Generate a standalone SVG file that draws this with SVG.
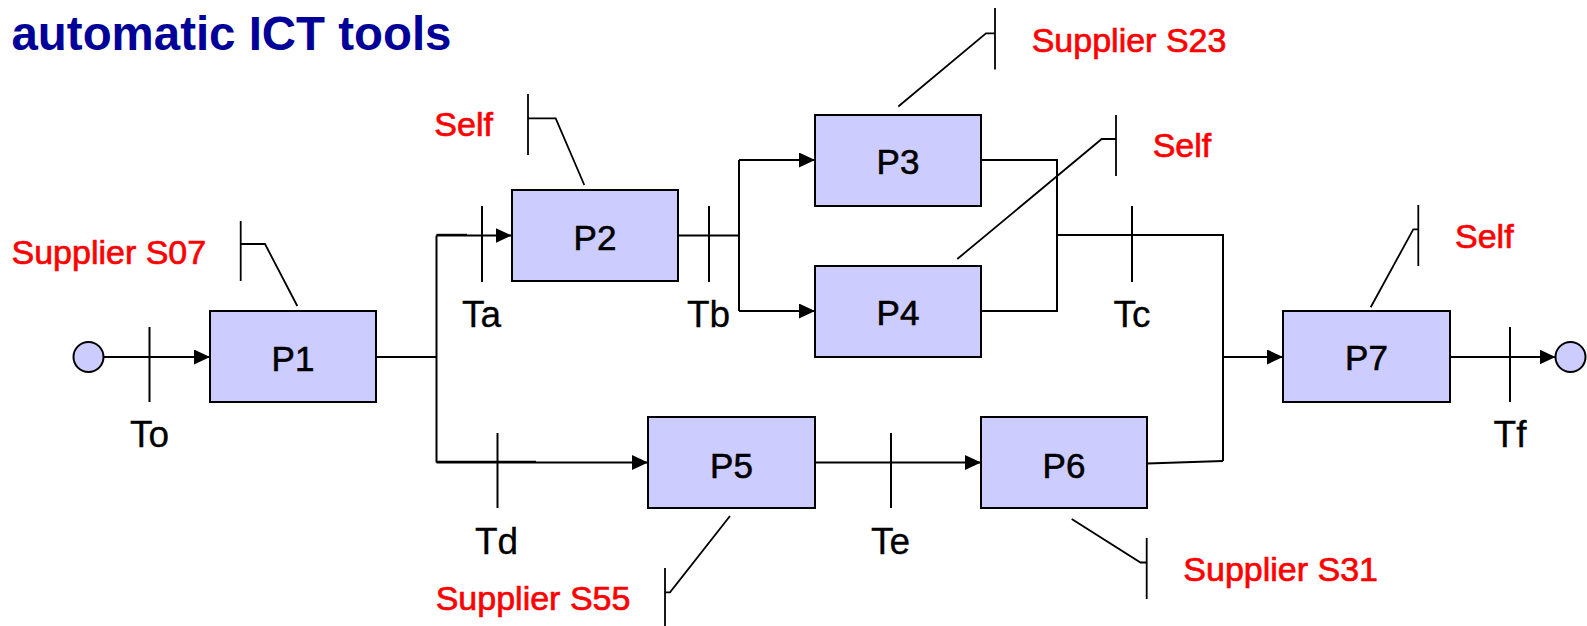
<svg xmlns="http://www.w3.org/2000/svg" width="1587" height="626" viewBox="0 0 1587 626">
  <defs>
    <marker id="arrow" markerUnits="userSpaceOnUse" viewBox="0 0 16 15" refX="16" refY="7.5" markerWidth="16" markerHeight="15" orient="auto">
      <path d="M0,0 L16,7.5 L0,15 z" fill="#000"/>
    </marker>
    <style>
      .box { fill: #ccccff; stroke: #000; stroke-width: 2; }
      .term { fill: #ccccff; stroke: #000; stroke-width: 2; }
      .ln { fill: none; stroke: #000; stroke-width: 2; }
      .res { fill: none; stroke: #000; stroke-width: 1.8; }
      .plabel { font-family: "Liberation Sans", Arial, sans-serif; font-size: 35px; fill: #000; stroke: #000; stroke-width: 0.6; text-anchor: middle; }
      .tlabel { font-family: "Liberation Sans", Arial, sans-serif; font-size: 37px; fill: #000; stroke: #000; stroke-width: 0.3; text-anchor: middle; }
      .rlabel { font-family: "Liberation Sans", Arial, sans-serif; font-size: 34px; fill: #ff0000; stroke: #ff0000; stroke-width: 0.7; }
      .title { font-family: "Liberation Sans", Arial, sans-serif; font-size: 47.5px; font-weight: bold; fill: #000099; }
    </style>
  </defs>
  <rect width="1587" height="626" fill="#ffffff"/>

  <text class="title" x="11.5" y="50" textLength="440" lengthAdjust="spacingAndGlyphs">automatic ICT tools</text>

  <g id="connectors">
    <line class="ln" x1="103" y1="357" x2="210" y2="357" marker-end="url(#arrow)"/>
    <path class="ln" d="M376,357 H436.5"/>
    <path class="ln" d="M436.5,235.5 V462.5"/>
    <line class="ln" x1="436.5" y1="235.5" x2="511.5" y2="235.5" marker-end="url(#arrow)"/>
    <line class="ln" x1="436.5" y1="234.8" x2="467" y2="234.8"/>
    <line class="ln" x1="436.5" y1="462.5" x2="648" y2="462.5" marker-end="url(#arrow)"/>
    <line class="ln" x1="436.5" y1="461.8" x2="536" y2="461.8"/>
    <path class="ln" d="M678,235.5 H739"/>
    <path class="ln" d="M739,160 V311"/>
    <line class="ln" x1="739" y1="160" x2="815" y2="160" marker-end="url(#arrow)"/>
    <line class="ln" x1="739" y1="311" x2="815" y2="311" marker-end="url(#arrow)"/>
    <path class="ln" d="M981,160 H1057 V311 H981"/>
    <path class="ln" d="M1057,235 H1223 V461"/>
    <line class="ln" x1="1223" y1="357" x2="1283" y2="357" marker-end="url(#arrow)"/>
    <line class="ln" x1="815" y1="462.5" x2="981" y2="462.5" marker-end="url(#arrow)"/>
    <path class="ln" d="M1147,463.5 L1223,461"/>
    <line class="ln" x1="1450" y1="357" x2="1555.5" y2="357" marker-end="url(#arrow)"/>
  </g>

  <g id="tokens">
    <g id="To"><line class="ln" x1="149.5" y1="327" x2="149.5" y2="402"/><text class="tlabel" x="149.5" y="447">To</text></g>
    <g id="Ta"><line class="ln" x1="482" y1="206" x2="482" y2="282"/><text class="tlabel" x="481.5" y="327">Ta</text></g>
    <g id="Tb"><line class="ln" x1="709" y1="206" x2="709" y2="282"/><text class="tlabel" x="708.5" y="327">Tb</text></g>
    <g id="Tc"><line class="ln" x1="1132" y1="206" x2="1132" y2="282"/><text class="tlabel" x="1132" y="327">Tc</text></g>
    <g id="Td"><line class="ln" x1="497.5" y1="433" x2="497.5" y2="508"/><text class="tlabel" x="496.5" y="554">Td</text></g>
    <g id="Te"><line class="ln" x1="891" y1="433" x2="891" y2="508"/><text class="tlabel" x="890.5" y="554">Te</text></g>
    <g id="Tf"><line class="ln" x1="1510" y1="327" x2="1510" y2="402"/><text class="tlabel" x="1510" y="447">Tf</text></g>
  </g>

  <g id="start"><circle class="term" cx="88.5" cy="357" r="15"/></g>
  <g id="end"><circle class="term" cx="1570.5" cy="357" r="15"/></g>

  <g id="P1"><rect class="box" x="210" y="311" width="166" height="91"/><text class="plabel" x="293" y="371">P1</text></g>
  <g id="P2"><rect class="box" x="512" y="190" width="166" height="91"/><text class="plabel" x="595" y="249.5">P2</text></g>
  <g id="P3"><rect class="box" x="815" y="115" width="166" height="91"/><text class="plabel" x="898" y="173.5">P3</text></g>
  <g id="P4"><rect class="box" x="815" y="266" width="166" height="91"/><text class="plabel" x="898" y="325">P4</text></g>
  <g id="P5"><rect class="box" x="648" y="417" width="167" height="91"/><text class="plabel" x="731.5" y="477.5">P5</text></g>
  <g id="P6"><rect class="box" x="981" y="417" width="166" height="91"/><text class="plabel" x="1064" y="477.5">P6</text></g>
  <g id="P7"><rect class="box" x="1283" y="311" width="167" height="91"/><text class="plabel" x="1366.5" y="370">P7</text></g>

  <g id="res-S07">
    <line class="res" x1="240.7" y1="221" x2="240.7" y2="281"/>
    <polyline class="res" points="240.7,244 265,244 297.3,306"/>
    <text class="rlabel" x="11.5" y="263.5">Supplier S07</text>
  </g>
  <g id="res-P2-self">
    <line class="res" x1="528" y1="94" x2="528" y2="155"/>
    <polyline class="res" points="528,118.3 555.7,118.3 584.3,185"/>
    <text class="rlabel" x="434.3" y="136">Self</text>
  </g>
  <g id="res-S23">
    <line class="res" x1="995" y1="8" x2="995" y2="69.5"/>
    <polyline class="res" points="995,33.3 986,33.3 898.3,106.5"/>
    <text class="rlabel" x="1031.7" y="51.7">Supplier S23</text>
  </g>
  <g id="res-P4-self">
    <line class="res" x1="1116" y1="115" x2="1116" y2="176"/>
    <polyline class="res" points="1116,139 1101.7,139 957.3,259"/>
    <text class="rlabel" x="1152.7" y="157.3">Self</text>
  </g>
  <g id="res-P7-self">
    <line class="res" x1="1418.3" y1="205" x2="1418.3" y2="266"/>
    <polyline class="res" points="1418.3,229.3 1413.3,229.3 1370.7,307.3"/>
    <text class="rlabel" x="1455" y="247.7">Self</text>
  </g>
  <g id="res-S55">
    <line class="res" x1="665" y1="568" x2="665" y2="626"/>
    <polyline class="res" points="665,592.3 670,592.3 730,516"/>
    <text class="rlabel" x="435.7" y="610">Supplier S55</text>
  </g>
  <g id="res-S31">
    <line class="res" x1="1146.7" y1="538" x2="1146.7" y2="599"/>
    <polyline class="res" points="1146.7,562.5 1140.5,562.5 1071.7,519"/>
    <text class="rlabel" x="1183.3" y="580.7">Supplier S31</text>
  </g>
</svg>
